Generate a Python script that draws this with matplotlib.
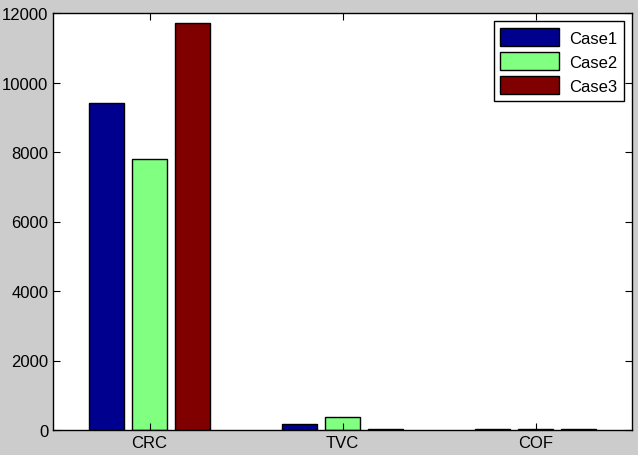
import matplotlib.pyplot as plt
import numpy as np

plt.rcParams['font.family'] = ['Liberation Sans', 'DejaVu Sans']

categories = ['CRC', 'TVC', 'COF']
case1 = [9410, 160, 20]
case2 = [7800, 360, 20]
case3 = [11710, 40, 20]
series = [('Case1', case1, '#00008f'),
          ('Case2', case2, '#80ff80'),
          ('Case3', case3, '#800000')]

fig = plt.figure(figsize=(6.38, 4.56), dpi=100, facecolor='#cccccc')
ax = fig.add_axes([53 / 638, 25 / 456, 579 / 638, 417 / 456])

x = np.arange(1, len(categories) + 1)
step = min(0.8, 3 / (3 + 1.5)) / 3
for i, (name, vals, col) in enumerate(series):
    ax.bar(x + (i - 1) * step, vals, width=0.83 * step, color=col,
           edgecolor='black', linewidth=1, label=name)

ax.set_xlim(0.5, 3.5)
ax.set_ylim(0, 12000)
ax.set_xticks(x)
ax.set_xticklabels(categories)
ax.set_yticks(np.arange(0, 12001, 2000))
ax.tick_params(direction='in', top=True, right=True, labelsize=12, length=5)
for s in ax.spines.values():
    s.set_linewidth(1)

ax.legend(loc='upper right', fontsize=12, fancybox=False, framealpha=1,
          edgecolor='black', handlelength=3.5, handleheight=1.3,
          borderaxespad=0.5, labelspacing=0.35, handletextpad=0.6)

fig.savefig('out.png', dpi=100, facecolor=fig.get_facecolor())
